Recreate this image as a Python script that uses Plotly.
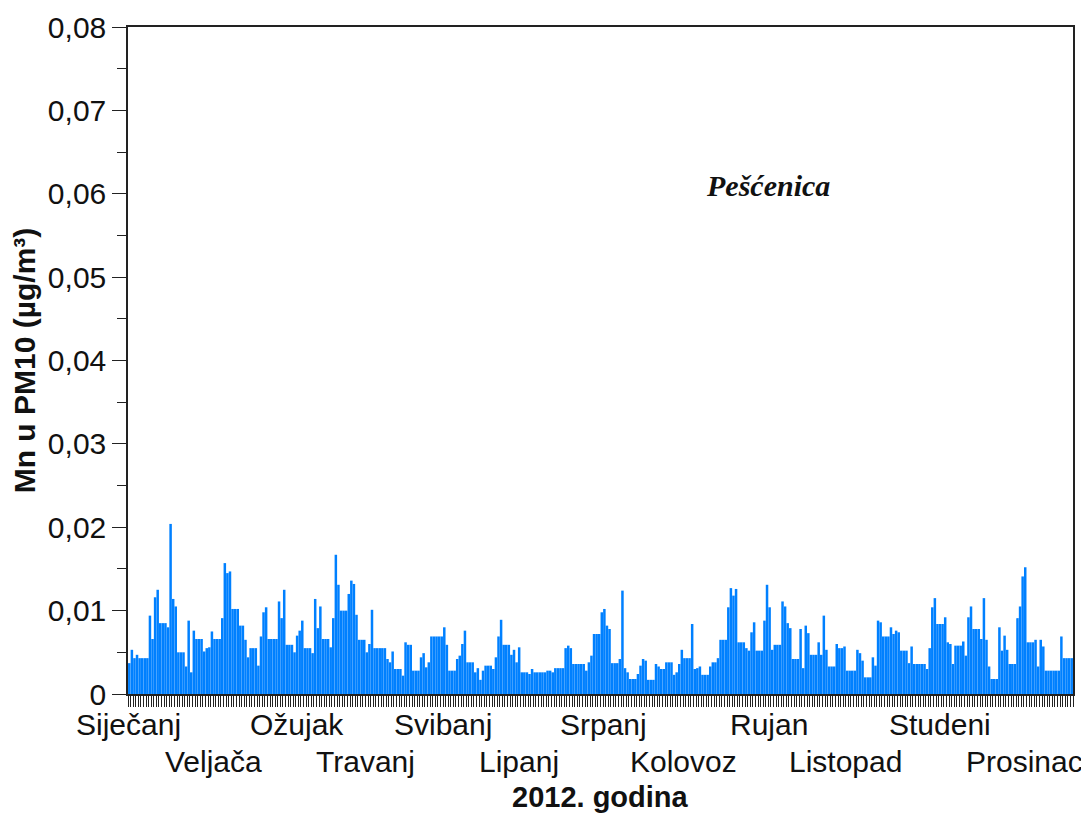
import plotly.graph_objects as go

# Daily Mn in PM10 (µg/m³), 2012, Pešćenica
jan = [0.0037, 0.0053, 0.0043, 0.0047, 0.0043, 0.0043, 0.0043, 0.0043, 0.0094, 0.0066,
       0.0116, 0.0125, 0.0085, 0.0085, 0.0085, 0.0080, 0.0204, 0.0114, 0.0105, 0.0050,
       0.0050, 0.0050, 0.0033, 0.0088, 0.0026, 0.0076, 0.0066, 0.0066, 0.0066, 0.0051, 0.0055]
feb = [0.0056, 0.0075, 0.0066, 0.0066, 0.0066, 0.0091, 0.0157, 0.0145, 0.0147, 0.0102,
       0.0102, 0.0102, 0.0082, 0.0082, 0.0065, 0.0044, 0.0055, 0.0055, 0.0055, 0.0034,
       0.0069, 0.0098, 0.0104, 0.0066, 0.0066, 0.0066, 0.0066, 0.0111, 0.0091]
mar = [0.0125, 0.0059, 0.0059, 0.0059, 0.0050, 0.0070, 0.0076, 0.0088, 0.0055, 0.0055,
       0.0055, 0.0049, 0.0114, 0.0079, 0.0105, 0.0066, 0.0066, 0.0066, 0.0056, 0.0091,
       0.0167, 0.0131, 0.0100, 0.0100, 0.0100, 0.0120, 0.0136, 0.0132, 0.0095, 0.0065, 0.0065]
apr = [0.0065, 0.0050, 0.0060, 0.0101, 0.0055, 0.0055, 0.0055, 0.0055, 0.0055, 0.0042,
       0.0038, 0.0051, 0.0030, 0.0030, 0.0030, 0.0022, 0.0062, 0.0059, 0.0059, 0.0028,
       0.0028, 0.0028, 0.0044, 0.0049, 0.0032, 0.0038, 0.0069, 0.0069, 0.0069, 0.0069]
may = [0.0069, 0.0080, 0.0059, 0.0028, 0.0028, 0.0028, 0.0042, 0.0046, 0.0060, 0.0076,
       0.0038, 0.0038, 0.0038, 0.0026, 0.0031, 0.0017, 0.0028, 0.0034, 0.0034, 0.0034,
       0.0030, 0.0044, 0.0069, 0.0089, 0.0059, 0.0059, 0.0059, 0.0047, 0.0053, 0.0038, 0.0056]
jun = [0.0026, 0.0026, 0.0026, 0.0024, 0.0030, 0.0026, 0.0026, 0.0026, 0.0026, 0.0026,
       0.0028, 0.0028, 0.0026, 0.0031, 0.0031, 0.0031, 0.0031, 0.0055, 0.0058, 0.0055,
       0.0036, 0.0036, 0.0036, 0.0036, 0.0036, 0.0028, 0.0038, 0.0046, 0.0072, 0.0072]
jul = [0.0072, 0.0098, 0.0102, 0.0082, 0.0078, 0.0037, 0.0037, 0.0037, 0.0042, 0.0124,
       0.0031, 0.0026, 0.0018, 0.0018, 0.0018, 0.0024, 0.0034, 0.0042, 0.0040, 0.0017,
       0.0017, 0.0017, 0.0036, 0.0033, 0.0030, 0.0030, 0.0038, 0.0038, 0.0038, 0.0023, 0.0026]
aug = [0.0036, 0.0053, 0.0043, 0.0043, 0.0043, 0.0084, 0.0030, 0.0031, 0.0033, 0.0023,
       0.0023, 0.0023, 0.0033, 0.0038, 0.0038, 0.0043, 0.0065, 0.0065, 0.0065, 0.0104,
       0.0127, 0.0118, 0.0126, 0.0062, 0.0062, 0.0062, 0.0055, 0.0052, 0.0074, 0.0086, 0.0052]
sep = [0.0052, 0.0052, 0.0088, 0.0131, 0.0104, 0.0053, 0.0059, 0.0059, 0.0059, 0.0111,
       0.0105, 0.0085, 0.0079, 0.0042, 0.0042, 0.0042, 0.0078, 0.0031, 0.0082, 0.0073,
       0.0047, 0.0047, 0.0047, 0.0062, 0.0047, 0.0094, 0.0053, 0.0033, 0.0033, 0.0033]
oct_ = [0.0060, 0.0055, 0.0055, 0.0057, 0.0028, 0.0028, 0.0028, 0.0028, 0.0053, 0.0049,
        0.0040, 0.0020, 0.0020, 0.0020, 0.0044, 0.0034, 0.0088, 0.0086, 0.0069, 0.0069,
        0.0069, 0.0080, 0.0072, 0.0076, 0.0074, 0.0052, 0.0052, 0.0052, 0.0037, 0.0057, 0.0036]
nov = [0.0036, 0.0036, 0.0036, 0.0036, 0.0030, 0.0055, 0.0104, 0.0115, 0.0084, 0.0084,
       0.0084, 0.0092, 0.0062, 0.0060, 0.0036, 0.0058, 0.0058, 0.0058, 0.0063, 0.0046,
       0.0092, 0.0105, 0.0078, 0.0078, 0.0078, 0.0066, 0.0115, 0.0065, 0.0033, 0.0018]
dec = [0.0018, 0.0018, 0.0080, 0.0052, 0.0070, 0.0053, 0.0036, 0.0036, 0.0036, 0.0091,
       0.0105, 0.0141, 0.0152, 0.0062, 0.0062, 0.0062, 0.0065, 0.0033, 0.0065, 0.0057,
       0.0028, 0.0028, 0.0028, 0.0028, 0.0028, 0.0028, 0.0069, 0.0043, 0.0043, 0.0043, 0.0043]

month_names = ["Siječanj", "Veljača", "Ožujak", "Travanj", "Svibanj", "Lipanj",
               "Srpanj", "Kolovoz", "Rujan", "Listopad", "Studeni", "Prosinac"]
# label anchor positions in day units (as placed in the original)
month_label_pos = [-0.3, 32.8, 64.8, 91.3, 121.5, 150.9, 183.5, 214.8, 247.8, 277.2, 314.0, 346.9]

y_tick_vals = [0, 0.01, 0.02, 0.03, 0.04, 0.05, 0.06, 0.07, 0.08]
y_tick_text = ["0", "0,01", "0,02", "0,03", "0,04", "0,05", "0,06", "0,07", "0,08"]

values = jan + feb + mar + apr + may + jun + jul + aug + sep + oct_ + nov + dec
days = list(range(len(values)))

FONT = "Liberation Sans, Arial, sans-serif"
AXC = "#222222"

fig = go.Figure()
fig.add_trace(go.Bar(x=days, y=values, marker=dict(color="#0080FF", line=dict(width=0)),
                     hoverinfo="y"))

annotations = []
for i, (name, pos) in enumerate(zip(month_names, month_label_pos)):
    annotations.append(dict(x=pos, y=0, xref="x", yref="paper", text=name,
                            showarrow=False, xanchor="center", yanchor="top",
                            yshift=-12 if i % 2 == 0 else -49,
                            font=dict(family=FONT, size=30, color="#111111")))
annotations.append(dict(x=0.5, y=0, xref="paper", yref="paper", text="<b>2012. godina</b>",
                        showarrow=False, xanchor="center", yanchor="top", yshift=-85,
                        font=dict(family=FONT, size=29, color="#111111")))
annotations.append(dict(x=0.677, y=0.762, xref="paper", yref="paper",
                        text="<b><i>Pešćenica</i></b>", showarrow=False,
                        xanchor="center", yanchor="middle",
                        font=dict(family="Liberation Serif, Times New Roman, serif",
                                  size=30, color="#111111")))

fig.update_layout(
    width=1081, height=806,
    margin=dict(l=120, r=16, t=19, b=120, autoexpand=False),
    paper_bgcolor="white", plot_bgcolor="white",
    bargap=0.03,
    showlegend=False,
    annotations=annotations,
    font=dict(family=FONT, size=30, color="#111111"),
)
fig.update_xaxes(
    range=[-0.5, 365.5],
    tickmode="linear", tick0=-0.5, dtick=1,
    ticks="outside", ticklen=11, tickwidth=1, tickcolor=AXC,
    showticklabels=False, automargin=False,
    showline=True, linecolor=AXC, linewidth=1.5, mirror=True,
    showgrid=False, zeroline=False,
)
fig.update_yaxes(
    range=[0, 0.08], automargin=False,
    tickmode="array", tickvals=y_tick_vals, ticktext=y_tick_text,
    ticks="outside", ticklen=14, tickwidth=1.3, tickcolor=AXC,
    minor=dict(tick0=0, dtick=0.005, ticks="outside", ticklen=9, tickwidth=1.3, tickcolor=AXC),
    tickfont=dict(family=FONT, size=30, color="#111111"),
    showline=True, linecolor=AXC, linewidth=1.5, mirror=True,
    showgrid=False, zeroline=False,
    title=dict(text="<b>Mn u PM10 (µg/m³)</b>", font=dict(family=FONT, size=30, color="#111111"),
               standoff=10),
)

fig.write_html("out.html")
